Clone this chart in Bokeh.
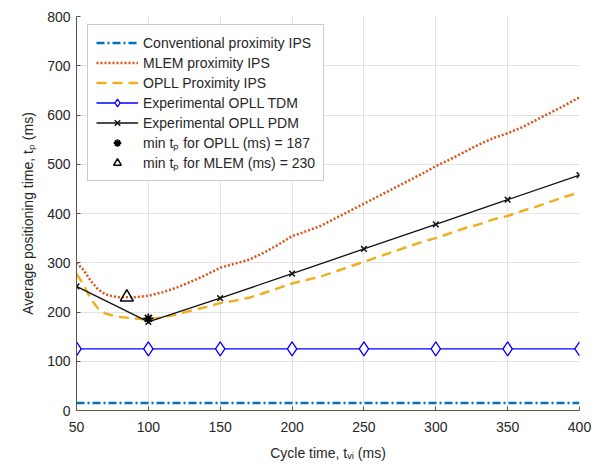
from bokeh.plotting import figure
from bokeh.models import Range1d, FixedTicker, Legend, LegendItem
from bokeh.embed import file_html
from bokeh.resources import INLINE

# ---- data ----
x_ticks = [50, 100, 150, 200, 250, 300, 350, 400]
y_ticks = [0, 100, 200, 300, 400, 500, 600, 700, 800]

curve_x = [50, 55, 60, 65, 70, 75, 80, 90, 100, 110, 120, 130, 140, 150, 160, 170, 180, 190,
           200, 210, 220, 230, 240, 250, 260, 270, 280, 290, 300, 310, 320, 330, 340, 350,
           360, 370, 380, 390, 400]
conv_y = [15] * len(curve_x)
mlem_y = [300, 285, 263, 246, 236, 232, 230, 230, 233, 240, 250, 262, 275, 290, 298, 306, 320, 336,
          354, 364, 375, 390, 405, 420, 435, 450, 465, 480, 496, 510, 525, 540, 553, 563,
          575, 590, 605, 620, 636]
opll_y = [278, 255, 226, 207, 197, 193, 190, 187, 185, 189, 195, 203, 210, 218, 223, 229, 238, 248,
          258, 265, 272, 282, 292, 302, 312, 322, 332, 342, 350, 360, 370, 378, 388, 395,
          405, 414, 424, 434, 443]

exp_x = [50, 100, 150, 200, 250, 300, 350, 400]
tdm_y = [125, 125, 125, 125, 125, 125, 125, 125]
pdm_y = [252, 180, 228, 278, 328, 378, 428, 478]

min_opll_x, min_opll_y = [100], [187]
min_mlem_x, min_mlem_y = [85], [230]

labels = ["Conventional proximity IPS", "MLEM proximity IPS", "OPLL Proximity IPS",
          "Experimental OPLL TDM", "Experimental OPLL PDM",
          "min t\u209a for OPLL (ms) = 187", "min t\u209a for MLEM (ms) = 230"]

FONT = "Liberation Sans"

p = figure(width=593, height=463, output_backend="svg", toolbar_location=None,
           x_range=Range1d(50, 400), y_range=Range1d(0, 800),
           min_border_left=76, min_border_right=14, min_border_top=16, min_border_bottom=30)
p.outline_line_color = None
p.background_fill_color = "white"

r_conv = p.line(curve_x, conv_y, line_color="#0072BD", line_width=2.5, line_dash="8 3 2 3")
r_mlem = p.line(curve_x, mlem_y, line_color="#D95319", line_width=2.5, line_dash="2 2")
r_opll = p.line(curve_x, opll_y, line_color="#EDB120", line_width=2.5, line_dash="10 6")
r_tdm_l = p.line(exp_x, tdm_y, line_color="#0000FF", line_width=1.3)
r_tdm_m = p.scatter(exp_x, tdm_y, marker="diamond", size=14, line_color="#0000FF",
                    fill_color="white", line_width=1.3)
r_pdm_l = p.line(exp_x, pdm_y, line_color="#111111", line_width=1.3)
r_pdm_m = p.scatter(exp_x, pdm_y, marker="x", size=8, line_color="#111111", line_width=1.5)
r_min_o = p.scatter(min_opll_x, min_opll_y, marker="asterisk", size=10, line_color="black", line_width=1.8)
r_min_m = p.scatter(min_mlem_x, min_mlem_y, marker="triangle", size=13, line_color="black",
                    fill_color=None, line_width=1.5)

# axes
for ax in (p.xaxis[0], p.yaxis[0]):
    ax.axis_line_color = "#555555"
    ax.major_tick_line_color = "#555555"
    ax.major_tick_in = 4
    ax.major_tick_out = 0
    ax.minor_tick_line_color = None
    ax.major_label_text_font = FONT
    ax.major_label_text_font_size = "14px"
    ax.major_label_text_color = "#262626"
    ax.axis_label_text_font = FONT
    ax.axis_label_text_font_size = "14px"
    ax.axis_label_text_font_style = "normal"
    ax.axis_label_text_color = "#262626"

p.xaxis.ticker = FixedTicker(ticks=x_ticks)
p.yaxis.ticker = FixedTicker(ticks=y_ticks)
p.xaxis.axis_label = "Cycle time, t\u1d65\u1d62 (ms)"
p.yaxis.axis_label = "Average positioning time, t\u209a (ms)"
p.xaxis.major_label_standoff = 11
p.xaxis.axis_label_standoff = 10
p.yaxis.major_label_standoff = 6
p.yaxis.axis_label_standoff = 8

p.xgrid.grid_line_color = "#e3e3e3"
p.ygrid.grid_line_color = "#e3e3e3"
p.xgrid.ticker = FixedTicker(ticks=x_ticks)
p.ygrid.ticker = FixedTicker(ticks=y_ticks)

legend = Legend(items=[
    LegendItem(label=labels[0], renderers=[r_conv]),
    LegendItem(label=labels[1], renderers=[r_mlem]),
    LegendItem(label=labels[2], renderers=[r_opll]),
    LegendItem(label=labels[3], renderers=[r_tdm_l, r_tdm_m]),
    LegendItem(label=labels[4], renderers=[r_pdm_l, r_pdm_m]),
    LegendItem(label=labels[5], renderers=[r_min_o]),
    LegendItem(label=labels[6], renderers=[r_min_m]),
], location=(11, 229))
legend.label_text_font = FONT
legend.label_text_font_size = "14px"
legend.label_text_color = "#262626"
legend.glyph_width = 42
legend.glyph_height = 19
legend.label_height = 19
legend.spacing = 1
legend.padding = 8
legend.margin = 0
legend.label_standoff = 5
legend.border_line_color = "#999999"
legend.border_line_width = 1
legend.background_fill_color = "white"
legend.background_fill_alpha = 1.0
p.add_layout(legend)

open("out.html", "w").write(file_html(p, INLINE))
